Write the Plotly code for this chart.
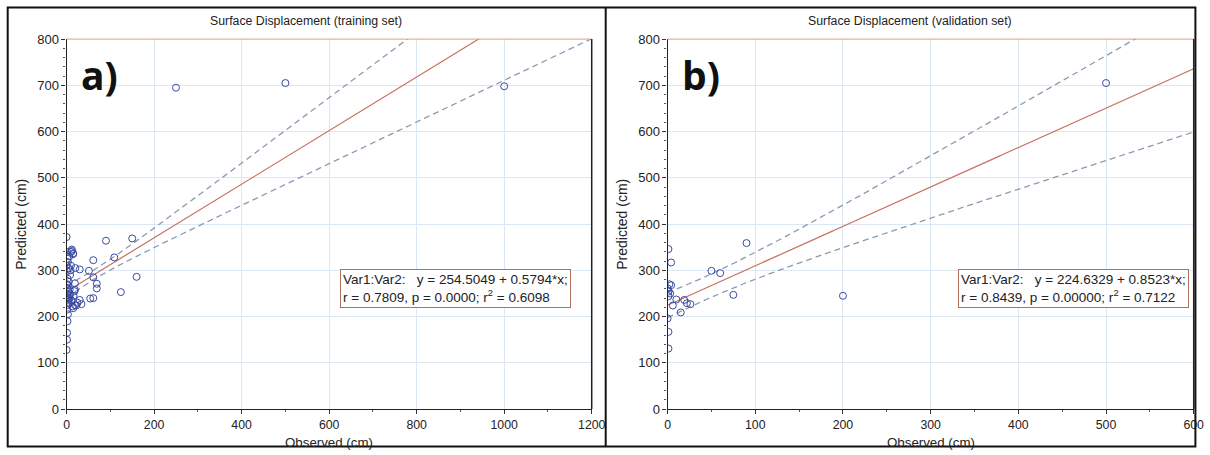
import numpy as np
import plotly.graph_objects as go

# ---------------- data ----------------
obs_train = [250, 500, 1000, 150, 90, 109, 61, 51, 30, 61, 160, 69, 69, 124, 54, 61, 30, 34, 19, 15,
             19, 19, 15, 12, 10, 0, 0, 1, 1, 2, 3, 1, 2, 4, 5, 3, 6, 8, 2, 4, 7, 1, 3, 5, 2, 8, 1, 4,
             10, 3, 2, 6, 1, 12, 15, 9, 20, 18, 25, 14, 11, 7, 5, 22, 16, 0, 1, 2]
pred_train = [695, 705, 698, 369, 364, 328, 322, 299, 302, 285, 286, 271, 261, 253, 239, 240, 236, 227, 225, 218,
              272, 258, 337, 345, 340, 372, 128, 150, 165, 190, 205, 215, 225, 232, 238, 242, 245, 248, 250, 255, 258, 262, 268, 275, 282, 290, 298, 305,
              310, 318, 325, 330, 340, 342, 335, 300, 305, 255, 230, 222, 235, 240, 228, 224, 245, 310, 270, 236]

obs_val = [500, 200, 90, 50, 60, 75, 4, 4, 3, 6, 10, 19, 22, 26, 15, 1, 1, 1, 0, 0, 1, 1, 2]
pred_val = [705, 245, 359, 299, 294, 247, 317, 268, 250, 224, 237, 236, 229, 227, 209, 346, 167, 131, 196, 261, 254, 244, 270]

# regression coefficients (from the legend boxes)
fit_train = dict(a=254.5049, b=0.5794, r=0.7809, p="0.0000", r2=0.6098)
fit_val = dict(a=224.6329, b=0.8523, r=0.8439, p="0.00000", r2=0.7122)
# confidence band shape parameters (estimated)
band_train = dict(h0=10.0, k=0.13, xm=58.0)
band_val = dict(h0=25.0, k=0.24, xm=40.0)

x_ticks_train = [0, 200, 400, 600, 800, 1000, 1200]
x_ticks_val = [0, 100, 200, 300, 400, 500, 600]
y_ticks = [0, 100, 200, 300, 400, 500, 600, 700, 800]

titles = ["Surface Displacement (training set)", "Surface Displacement (validation set)"]
panel_labels = ["a)", "b)"]

# ---------------- figure ----------------
W, H = 1210, 455
fig = go.Figure()

# target positions are given in picture pixels; small correction for how the page is photographed
SX, OX, SY, OY = 0.9876, 1.3, 0.967, 6.9

def px_x(v):
    return min(max(((v - OX) / SX) / W, 0.0005), 0.9995)

def px_y(v):
    return min(max(1 - ((v - OY) / SY) / H, 0.001), 0.999)

MARK = "#3b4aa3"
REG = "#c8705f"
CONF = "#8b9bb3"
GRID = "#dbe8f3"
FONT = "Liberation Sans, Arial"
TXT = "#222222"

panels = [
    dict(obs=obs_train, pred=pred_train, fit=fit_train, band=band_train, xmax=1200, xticks=x_ticks_train,
         dom=(65, 591), xa="x", ya="y", xaxis="xaxis", yaxis="yaxis", cx=305, box=(455, 288.5)),
    dict(obs=obs_val, pred=pred_val, fit=fit_val, band=band_val, xmax=600, xticks=x_ticks_val,
         dom=(667, 1194), xa="x2", ya="y2", xaxis="xaxis2", yaxis="yaxis2", cx=910, box=(1074, 288)),
]

Y_TOP, Y_BOT = 39, 409

for i, p in enumerate(panels):
    f, bd = p["fit"], p["band"]
    xs = np.linspace(0, p["xmax"], 400)
    yhat = f["a"] + f["b"] * xs
    hw = np.sqrt(bd["h0"] ** 2 + (bd["k"] * (xs - bd["xm"])) ** 2)
    for yy in (yhat + hw, yhat - hw):
        fig.add_trace(go.Scatter(x=xs, y=yy, mode="lines", xaxis=p["xa"], yaxis=p["ya"],
                                 line=dict(color=CONF, width=1.3, dash="6px,4px"),
                                 showlegend=False, hoverinfo="skip"))
    fig.add_trace(go.Scatter(x=xs, y=yhat, mode="lines", xaxis=p["xa"], yaxis=p["ya"],
                             line=dict(color=REG, width=1.2), showlegend=False, hoverinfo="skip"))
    fig.add_trace(go.Scatter(x=p["obs"], y=p["pred"], mode="markers", xaxis=p["xa"], yaxis=p["ya"],
                             marker=dict(symbol="circle-open", size=7, color=MARK, line=dict(width=1)),
                             showlegend=False))

    common = dict(showgrid=True, gridcolor=GRID, gridwidth=1, zeroline=False,
                  showline=True, linecolor="#222222", linewidth=1.2, ticks="outside", ticklen=4,
                  tickcolor="#333333")
    fig.layout[p["xaxis"]] = dict(common, domain=[px_x(p["dom"][0]), px_x(p["dom"][1])],
                                  range=[0, p["xmax"]], tickvals=p["xticks"], anchor=p["ya"],
                                  tickfont=dict(family=FONT, size=12.3, color=TXT),
                                  minor=dict(ticks="outside", ticklen=2, dtick=p["xticks"][1] / 2,
                                             tickcolor="#555555", showgrid=False))
    fig.layout[p["yaxis"]] = dict(common, domain=[px_y(Y_BOT), px_y(Y_TOP)], range=[0, 800],
                                  tickvals=y_ticks, anchor=p["xa"],
                                  tickfont=dict(family=FONT, size=13, color=TXT),
                                  minor=dict(ticks="outside", ticklen=2, dtick=20,
                                             tickcolor="#555555", showgrid=False))

    x0, x1 = px_x(p["dom"][0]), px_x(p["dom"][1])
    y0, y1 = px_y(Y_BOT), px_y(Y_TOP)
    # top & right frame of the plot area
    fig.add_shape(type="line", xref="paper", yref="paper", x0=x0, x1=x1, y0=y1, y1=y1,
                  line=dict(color="#d9a080", width=1))
    fig.add_shape(type="line", xref="paper", yref="paper", x0=x1, x1=x1, y0=y0, y1=y1,
                  line=dict(color="#222222", width=1.5))

    # axis titles
    fig.add_annotation(xref="paper", yref="paper", x=(x0 + x1) / 2, y=px_y(442), text="Observed (cm)",
                       showarrow=False, xanchor="center", yanchor="middle",
                       font=dict(family=FONT, size=13.3, color=TXT))
    fig.add_annotation(xref="paper", yref="paper", x=px_x(p["dom"][0] - 46), y=(y0 + y1) / 2,
                       text="Predicted (cm)", textangle=-90,
                       showarrow=False, xanchor="center", yanchor="middle",
                       font=dict(family=FONT, size=14, color=TXT))
    # title
    fig.add_annotation(xref="paper", yref="paper", x=px_x(p["cx"]), y=px_y(21), text=titles[i],
                       showarrow=False, xanchor="center", yanchor="middle",
                       font=dict(family=FONT, size=12.3, color=TXT))
    # panel label
    fig.add_annotation(xref="paper", yref="paper", x=px_x(p["dom"][0] + 12), y=px_y(74),
                       text="<b>" + panel_labels[i] + "</b>",
                       showarrow=False, xanchor="left", yanchor="middle",
                       font=dict(family="Open Sans, Liberation Sans", size=39, color="#111111"))
    # equation box
    txt = ("Var1:Var2:&nbsp;&nbsp; y = %.4f + %.4f*x;<br>r = %.4f, p = %s; r<sup>2</sup> = %.4f"
           % (f["a"], f["b"], f["r"], f["p"], f["r2"]))
    fig.add_annotation(xref="paper", yref="paper", x=px_x(p["box"][0]), y=px_y(p["box"][1]), text=txt,
                       showarrow=False, xanchor="center", yanchor="middle", align="left",
                       bordercolor="#b0705a", borderwidth=1, borderpad=2, bgcolor="white",
                       font=dict(family=FONT, size=13.5, color=TXT))

# outer frame and divider
fig.add_shape(type="rect", xref="paper", yref="paper", x0=px_x(6), x1=px_x(1207), y0=px_y(453), y1=px_y(6),
              line=dict(color="#111111", width=2))
fig.add_shape(type="line", xref="paper", yref="paper", x0=px_x(605), x1=px_x(605), y0=px_y(453), y1=px_y(6),
              line=dict(color="#111111", width=2))

fig.update_layout(width=W, height=H, margin=dict(l=0, r=0, t=0, b=0), autosize=False,
                  paper_bgcolor="white", plot_bgcolor="white")

post = ("document.documentElement.style.overflow='hidden';"
        "document.body.style.margin='0';document.body.style.overflow='hidden';"
        "var gd=document.getElementById('{plot_id}');"
        "Plotly.relayout(gd,{width:%d,height:%d});" % (W, H))
fig.write_html("out.html", config={"responsive": False, "displayModeBar": False},
               post_script=post)
